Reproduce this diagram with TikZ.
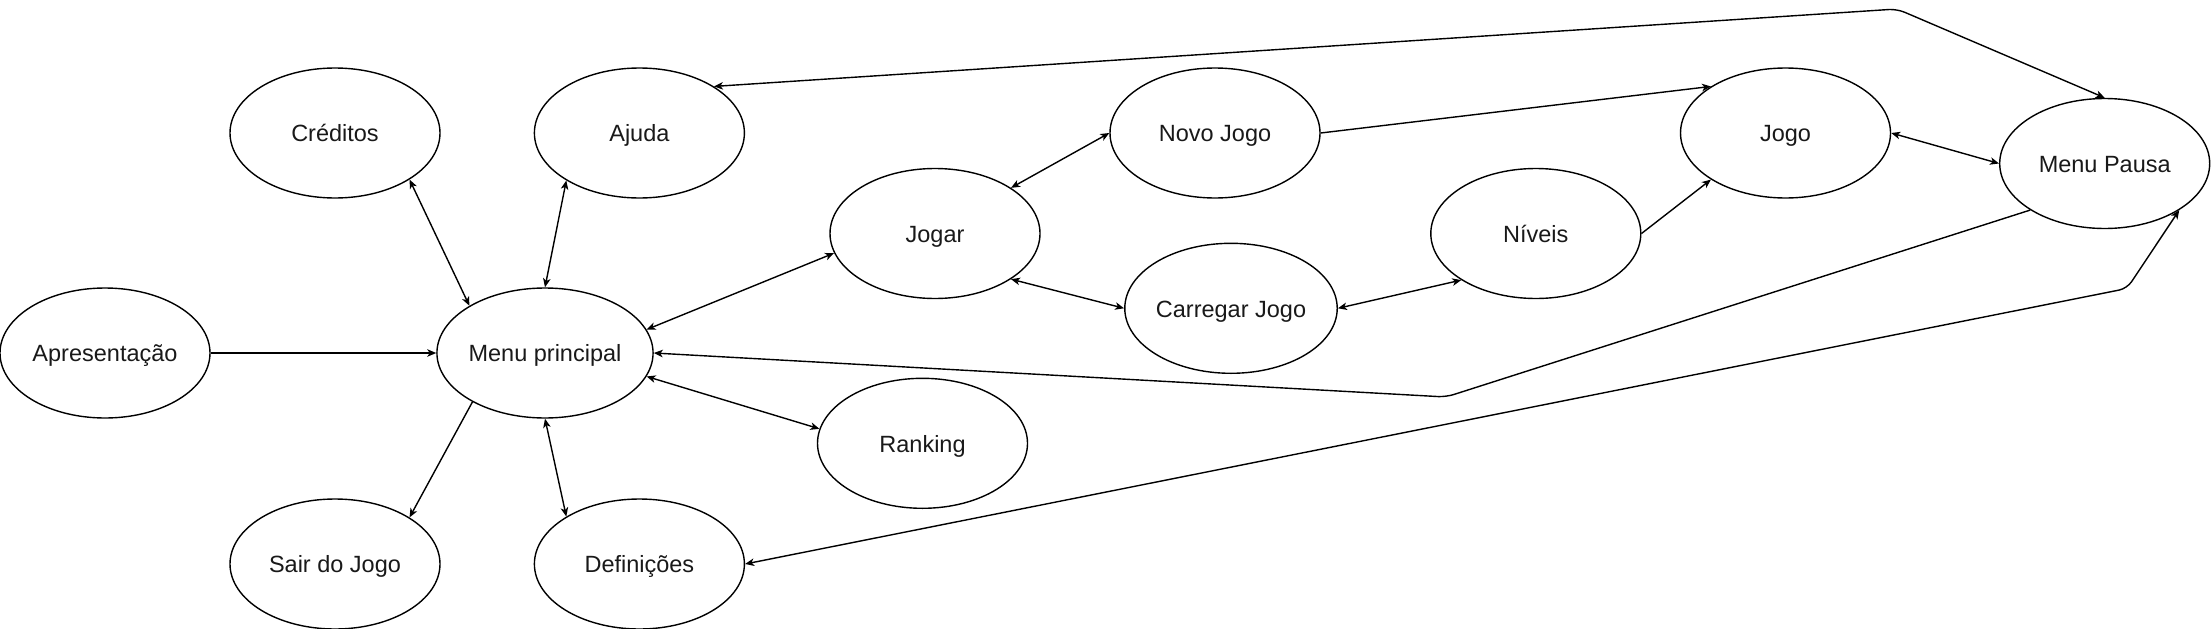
\documentclass[tikz,border=0pt]{standalone}
\usepackage{fontspec}
\setmainfont{Liberation Sans}
\usetikzlibrary{shapes.geometric,arrows.meta}
\begin{document}
\begin{tikzpicture}[x=1pt,y=-1pt,
  state/.style={draw=black,line width=1.4pt,ellipse,minimum width=210pt,minimum height=130pt,inner sep=0pt,text height=17.4pt,text depth=0pt,text=black!90,font=\fontsize{23.5}{28}\selectfont},
  conn/.style={draw=black,line width=1.4pt,rounded corners=8pt},
  tip/.tip={Stealth[length=9pt,width=7.5pt,inset=2.5pt]},
  one/.style={conn,-tip},
  two/.style={conn,tip-tip}]
\useasboundingbox (0,0) rectangle (2211,629);
\node[state] (apr) at (105,353) {Apresentação};
\node[state] (menu) at (545,353) {Menu principal};
\node[state] (cred) at (335,133) {Créditos};
\node[state] (ajuda) at (639.4,133) {Ajuda};
\node[state] (sair) at (335,564) {Sair do Jogo};
\node[state] (def) at (639.4,564) {Definições};
\node[state] (jogar) at (935,233.5) {Jogar};
\node[state] (rank) at (922.5,443.3) {Ranking};
\node[state] (novo) at (1215,133) {Novo Jogo};
\node[state] (carr) at (1231,308.3) {Carregar Jogo};
\node[state] (niv) at (1535.8,233.5) {Níveis};
\node[state] (jogo) at (1785.5,133) {Jogo};
\node[state] (pausa) at (2104.7,163.5) {Menu Pausa};
\coordinate (w1) at (1897,9);
\coordinate (w2) at (1446,397);
\coordinate (w3) at (2127,288.5);
\draw[one] (apr.east) -- (menu.west);
\draw[two] (menu.148.2) -- (cred.-32.3);
\draw[two] (menu.north) -- (ajuda.-147.8);
\draw[two] (menu.13) -- (jogar.191.2);
\draw[two] (menu.-13.5) -- (rank.172.7);
\draw[one] (menu.-146.5) -- (sair.32.2);
\draw[two] (menu.south) -- (def.147.9);
\draw[two] (jogar.31.6) -- (novo.west);
\draw[two] (jogar.-31.6) -- (carr.west);
\draw[one] (novo.east) -- (jogo.148.6);
\draw[two] (carr.east) -- (niv.-148.7);
\draw[one] (niv.east) -- (jogo.-148);
\draw[two] (jogo.east) -- (pausa.west);
\draw[one] (pausa.-148.4) -- (w2) -- (menu.east);
\draw[two] (ajuda.32.1) -- (w1) -- (pausa.north);
\draw[two] (def.east) -- (w3) -- (pausa.-32.5);
\end{tikzpicture}
\end{document}
